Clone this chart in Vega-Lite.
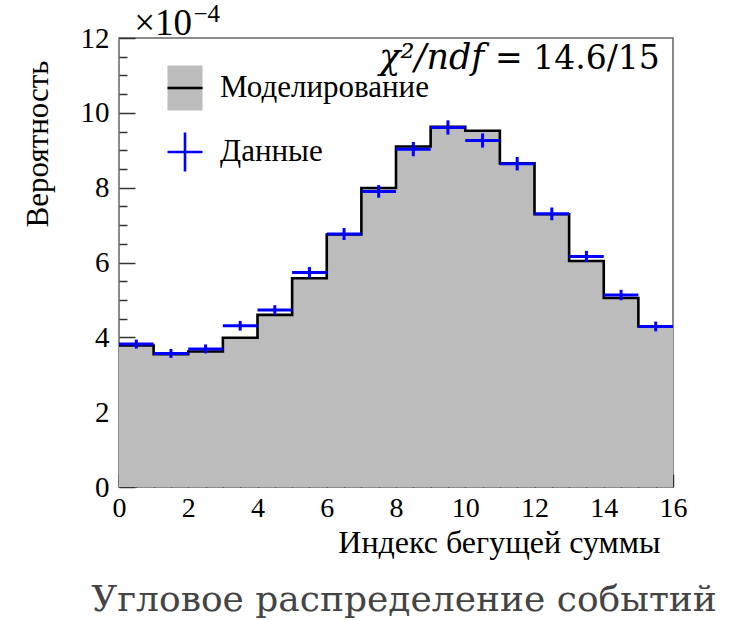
{
  "$schema": "https://vega.github.io/schema/vega-lite/v6.json",
  "width": 554,
  "height": 449,
  "autosize": {"type": "none"},
  "padding": {"left": 119, "top": 38, "right": 76, "bottom": 133},
  "background": "white",
  "title": {
    "text": "Угловое распределение событий",
    "orient": "bottom",
    "anchor": "middle",
    "font": "DejaVu Serif",
    "fontSize": 36,
    "fontWeight": "normal",
    "color": "#444444",
    "offset": 25,
    "dx": 8
  },
  "datasets": {
    "mc": [
      {"x": 0, "p": 3.78}, {"x": 1, "p": 3.55}, {"x": 2, "p": 3.62}, {"x": 3, "p": 3.99},
      {"x": 4, "p": 4.60}, {"x": 5, "p": 5.58}, {"x": 6, "p": 6.75}, {"x": 7, "p": 7.99},
      {"x": 8, "p": 9.10}, {"x": 9, "p": 9.63}, {"x": 10, "p": 9.52}, {"x": 11, "p": 8.65},
      {"x": 12, "p": 7.29}, {"x": 13, "p": 6.04}, {"x": 14, "p": 5.05}, {"x": 15, "p": 4.29},
      {"x": 16, "p": 4.29}
    ],
    "obs": [
      {"b": 0.5, "x0": 0, "x1": 1, "p": 3.82, "lo": 3.70, "hi": 3.94},
      {"b": 1.5, "x0": 1, "x1": 2, "p": 3.57, "lo": 3.45, "hi": 3.69},
      {"b": 2.5, "x0": 2, "x1": 3, "p": 3.69, "lo": 3.57, "hi": 3.81},
      {"b": 3.5, "x0": 3, "x1": 4, "p": 4.31, "lo": 4.18, "hi": 4.44},
      {"b": 4.5, "x0": 4, "x1": 5, "p": 4.73, "lo": 4.60, "hi": 4.86},
      {"b": 5.5, "x0": 5, "x1": 6, "p": 5.73, "lo": 5.58, "hi": 5.88},
      {"b": 6.5, "x0": 6, "x1": 7, "p": 6.76, "lo": 6.60, "hi": 6.92},
      {"b": 7.5, "x0": 7, "x1": 8, "p": 7.90, "lo": 7.73, "hi": 8.07},
      {"b": 8.5, "x0": 8, "x1": 9, "p": 9.03, "lo": 8.84, "hi": 9.22},
      {"b": 9.5, "x0": 9, "x1": 10, "p": 9.61, "lo": 9.42, "hi": 9.80},
      {"b": 10.5, "x0": 10, "x1": 11, "p": 9.26, "lo": 9.07, "hi": 9.45},
      {"b": 11.5, "x0": 11, "x1": 12, "p": 8.64, "lo": 8.46, "hi": 8.82},
      {"b": 12.5, "x0": 12, "x1": 13, "p": 7.30, "lo": 7.13, "hi": 7.47},
      {"b": 13.5, "x0": 13, "x1": 14, "p": 6.16, "lo": 6.01, "hi": 6.31},
      {"b": 14.5, "x0": 14, "x1": 15, "p": 5.13, "lo": 4.99, "hi": 5.27},
      {"b": 15.5, "x0": 15, "x1": 16, "p": 4.29, "lo": 4.16, "hi": 4.42}
    ]
  },
  "resolve": {"axis": {"x": "independent", "y": "independent"}},
  "layer": [
    {
      "data": {"name": "mc"},
      "mark": {"type": "area", "interpolate": "step-after", "color": "#bcbcbc"},
      "encoding": {
        "x": {
          "field": "x", "type": "quantitative",
          "scale": {"domain": [0, 16], "nice": false, "zero": false},
          "axis": {
            "orient": "bottom",
            "title": "Индекс бегущей суммы",
            "values": [0, 2, 4, 6, 8, 10, 12, 14, 16],
            "offset": -13,
            "tickSize": 13,
            "domain": false,
            "labelPadding": 7,
            "labelFontSize": 28,
            "labelFlush": false,
            "labelOverlap": false,
            "titleAnchor": "end",
            "titleAlign": "right",
            "titleBaseline": "alphabetic",
            "titleFontSize": 32,
            "titleX": 541,
            "titleY": 78
          }
        },
        "y": {
          "field": "p", "type": "quantitative",
          "scale": {"domain": [0, 12], "nice": false},
          "axis": {
            "orient": "left",
            "title": "Вероятность",
            "values": [0, 2, 4, 6, 8, 10, 12],
            "offset": -16,
            "tickSize": 16,
            "domain": false,
            "labelPadding": 10,
            "labelOverlap": false,
            "titleAngle": 270,
            "titleAlign": "right",
            "titleBaseline": "alphabetic",
            "titleX": -88,
            "titleY": 22
          }
        }
      }
    },
    {
      "data": {"name": "mc"},
      "mark": {"type": "line", "interpolate": "step-after", "color": "#000000", "strokeWidth": 2.6},
      "encoding": {
        "x": {
          "field": "x", "type": "quantitative",
          "axis": {
            "orient": "bottom",
            "title": null,
            "values": [0.5,1,1.5,2.5,3,3.5,4.5,5,5.5,6.5,7,7.5,8.5,9,9.5,10.5,11,11.5,12.5,13,13.5,14.5,15,15.5],
            "offset": -7,
            "tickSize": 7,
            "domain": false,
            "labels": false
          }
        },
        "y": {
          "field": "p", "type": "quantitative",
          "axis": {
            "orient": "left",
            "title": null,
            "values": [0.5,1,1.5,2.5,3,3.5,4.5,5,5.5,6.5,7,7.5,8.5,9,9.5,10.5,11,11.5],
            "offset": -8,
            "tickSize": 8,
            "domain": false,
            "labels": false
          }
        }
      }
    },
    {
      "data": {"name": "obs"},
      "mark": {"type": "rule", "color": "#0000ff", "strokeWidth": 3},
      "encoding": {
        "x": {"field": "x0", "type": "quantitative", "axis": null},
        "x2": {"field": "x1"},
        "y": {"field": "p", "type": "quantitative", "axis": null}
      }
    },
    {
      "data": {"name": "obs"},
      "mark": {"type": "rule", "color": "#0000ff", "strokeWidth": 3},
      "encoding": {
        "x": {"field": "b", "type": "quantitative", "axis": null},
        "y": {"field": "lo", "type": "quantitative", "axis": null},
        "y2": {"field": "hi"}
      }
    },
    {
      "data": {"name": "obs"},
      "mark": {"type": "point", "opacity": 0, "filled": false, "fill": "#bcbcbc"},
      "encoding": {
        "x": {"field": "b", "type": "quantitative", "axis": null},
        "y": {"field": "p", "type": "quantitative", "axis": null},
        "color": {
          "datum": "Данные",
          "scale": {"domain": ["Моделирование", "Данные"], "range": ["#000000", "#0000ff"]},
          "legend": {"title": null}
        },
        "shape": {
          "datum": "Данные",
          "scale": {"domain": ["Моделирование", "Данные"], "range": ["M-1,0H1V-1.29H-1V1.29H1V0", "M-1,0H1M0,-1.11V0M0,0V1.11"]},
          "legend": {"title": null}
        }
      }
    },
    {
      "data": {"values": [{}]},
      "mark": {"type": "text", "text": "χ²/ndf", "font": "DejaVu Serif", "fontStyle": "italic", "fontSize": 35, "align": "right", "baseline": "alphabetic", "color": "#000000"},
      "encoding": {
        "x": {"datum": 10.55, "type": "quantitative", "axis": null},
        "y": {"datum": 11.17, "type": "quantitative", "axis": null}
      }
    },
    {
      "data": {"values": [{}]},
      "mark": {"type": "text", "text": "= 14.6/15", "font": "DejaVu Serif", "fontSize": 33, "align": "right", "baseline": "alphabetic", "color": "#000000"},
      "encoding": {
        "x": {"datum": 15.62, "type": "quantitative", "axis": null},
        "y": {"datum": 11.17, "type": "quantitative", "axis": null}
      }
    },
    {
      "data": {"values": [{}]},
      "mark": {"type": "text", "text": "×10", "font": "Liberation Serif", "fontSize": 37, "align": "left", "baseline": "alphabetic", "color": "#000000"},
      "encoding": {
        "x": {"datum": 0.44, "type": "quantitative", "axis": null},
        "y": {"datum": 12.08, "type": "quantitative", "axis": null}
      }
    },
    {
      "data": {"values": [{}]},
      "mark": {"type": "text", "text": "−4", "font": "Liberation Serif", "fontSize": 25, "align": "left", "baseline": "alphabetic", "color": "#000000"},
      "encoding": {
        "x": {"datum": 2.15, "type": "quantitative", "axis": null},
        "y": {"datum": 12.42, "type": "quantitative", "axis": null}
      }
    }
  ],
  "config": {
    "view": {"stroke": "#666666", "strokeWidth": 1.5},
    "axis": {
      "grid": false,
      "zindex": 1,
      "ticks": true,
      "labelFont": "Liberation Serif",
      "labelFontSize": 29,
      "labelColor": "#000000",
      "titleFont": "Liberation Serif",
      "titleFontSize": 31,
      "titleFontWeight": "normal",
      "titleColor": "#000000",
      "tickColor": "#333333",
      "tickWidth": 1.5
    },
    "legend": {
      "orient": "none",
      "legendX": 47,
      "legendY": 31,
      "padding": 0,
      "symbolSize": 1225,
      "symbolStrokeWidth": 2.6,
      "symbolDash": [35, 400],
      "symbolOpacity": 1,
      "labelFont": "Liberation Serif",
      "labelFontSize": 31,
      "labelColor": "#000000",
      "labelOffset": 16,
      "labelLimit": 0,
      "rowPadding": 11
    }
  }
}
